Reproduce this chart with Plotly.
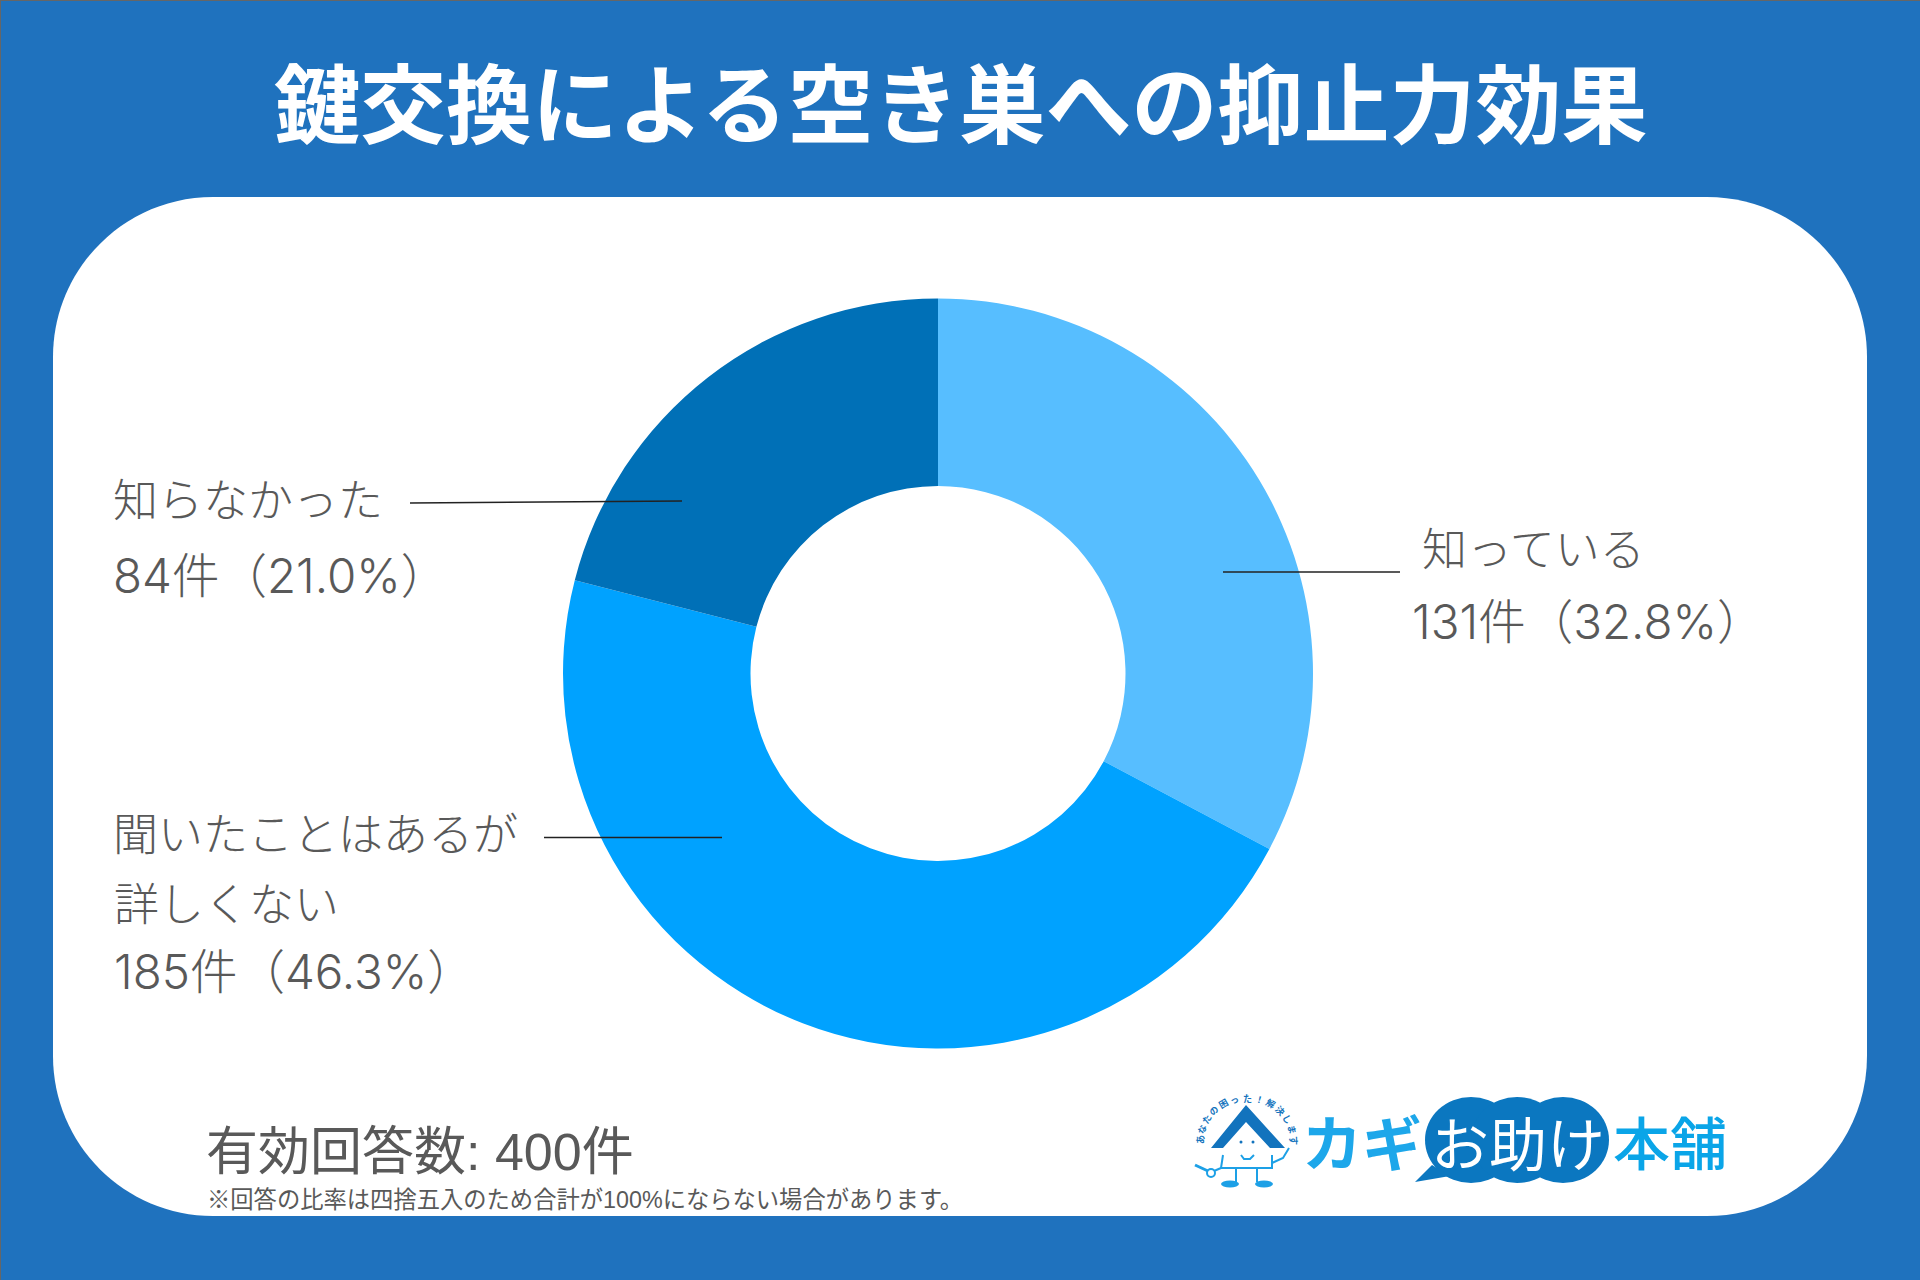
"""
Creates the donut chart for the key replacement survey.
"""

import math

import plotly.graph_objects as go

WIDTH = 1920
HEIGHT = 1280
JP_FONT = "Noto Sans CJK JP"
LABEL_FONT = "Inter, Noto Sans CJK JP"
FOOT_FONT = "Liberation Sans, Noto Sans CJK JP"
GRAY = "#595959"
BLUE = "#1F72BE"

TITLE = "鍵交換による空き巣への抑止力効果"
CATEGORIES = ["知っている", "聞いたことはあるが詳しくない", "知らなかった"]
COUNTS = [131, 185, 84]
SHARES = ["32.8", "46.3", "21.0"]
COLORS = ["#57BEFF", "#00A2FF", "#0070B7"]
TOTAL = 400
FOOTNOTE = "※回答の比率は四捨五入のため合計が100%にならない場合があります。"
LOGO_CIRCLE_TEXT = "あなたの困った！解決します"


def px(x):
    return x / WIDTH


def py(y):
    return 1 - y / HEIGHT


def rounded_rect(x0, y0, x1, y1, r):
    """SVG path in paper coordinates, arcs written as beziers"""
    k = r * 0.4477

    def p(x, y):
        return f"{px(x)},{py(y)}"

    return (
        f"M {p(x0 + r, y0)} L {p(x1 - r, y0)} "
        f"C {p(x1 - k, y0)} {p(x1, y0 + k)} {p(x1, y0 + r)} "
        f"L {p(x1, y1 - r)} "
        f"C {p(x1, y1 - k)} {p(x1 - k, y1)} {p(x1 - r, y1)} "
        f"L {p(x0 + r, y1)} "
        f"C {p(x0 + k, y1)} {p(x0, y1 - k)} {p(x0, y1 - r)} "
        f"L {p(x0, y0 + r)} "
        f"C {p(x0, y0 + k)} {p(x0 + k, y0)} {p(x0 + r, y0)} Z"
    )


def poly(points, close=False):
    path = "M " + " L ".join(f"{px(x)},{py(y)}" for x, y in points)
    return path + (" Z" if close else "")


def text(x, y, value, size, color=GRAY, anchor="left", family=LABEL_FONT, weight=300, angle=0):
    return dict(
        x=px(x),
        y=py(y),
        xref="paper",
        yref="paper",
        text=value,
        showarrow=False,
        xanchor=anchor,
        yanchor="middle",
        textangle=angle,
        font=dict(family=family, size=size, color=color, weight=weight),
    )


def line(x0, y0, x1, y1, color="#222222", width=1.6, layer="above"):
    return dict(
        type="line",
        xref="paper",
        yref="paper",
        x0=px(x0),
        y0=py(y0),
        x1=px(x1),
        y1=py(y1),
        line=dict(color=color, width=width),
        layer=layer,
    )


def filled(path, color):
    return dict(
        type="path",
        xref="paper",
        yref="paper",
        path=path,
        fillcolor=color,
        line=dict(width=0),
        layer="above",
    )


def outline(path, color, width):
    return dict(
        type="path",
        xref="paper",
        yref="paper",
        path=path,
        line=dict(color=color, width=width),
        layer="above",
    )


def ellipse(cx, cy, rx, ry, color):
    return dict(
        type="circle",
        xref="paper",
        yref="paper",
        x0=px(cx - rx),
        x1=px(cx + rx),
        y0=py(cy - ry),
        y1=py(cy + ry),
        fillcolor=color,
        line=dict(width=0),
        layer="above",
    )


def logo_shapes():
    dark = "#0B77C0"
    light = "#1DA0E6"
    shapes = [ellipse(cx, 1140, 46, 43, dark) for cx in (1471, 1517, 1563)]
    shapes.append(filled(poly([(1415, 1182), (1432, 1165), (1450, 1176)], True), dark))
    # house
    shapes.append(
        filled(
            poly(
                [(1246, 1105), (1285, 1148), (1270, 1148), (1246, 1122), (1223, 1148), (1211, 1148)],
                True,
            ),
            "#1273BD",
        )
    )
    shapes.append(outline(poly([(1223, 1155), (1221, 1168), (1272, 1168), (1272, 1155)]), light, 2))
    shapes.append(outline(poly([(1272, 1163), (1283, 1158), (1289, 1148)]), light, 2))
    shapes.append(outline(poly([(1236, 1168), (1236, 1182)]), light, 2))
    shapes.append(outline(poly([(1257, 1168), (1257, 1182)]), light, 2))
    shapes.append(ellipse(1230, 1184, 9, 3.5, light))
    shapes.append(ellipse(1264, 1184, 9, 3.5, light))
    shapes.append(ellipse(1241, 1142, 1.5, 1.5, "#1273BD"))
    shapes.append(ellipse(1253, 1142, 1.5, 1.5, "#1273BD"))
    shapes.append(outline(poly([(1241, 1155), (1244, 1159), (1250, 1159), (1254, 1155)]), light, 2))
    # key
    shapes.append(outline(poly([(1221, 1168), (1214, 1171)]), light, 2))
    shapes.append(outline(poly([(1208, 1171), (1195, 1165)]), light, 3))
    shapes.append(
        dict(
            type="circle",
            xref="paper",
            yref="paper",
            x0=px(1207),
            x1=px(1215),
            y0=py(1169),
            y1=py(1177),
            line=dict(color=light, width=2),
            layer="above",
        )
    )
    return shapes


def logo_annotations():
    items = [
        text(1362, 1139, "カギ", 60, "#1DA7EA", "center", JP_FONT, 700),
        text(1518, 1141, "お助け", 58, "white", "center", JP_FONT, 400),
        text(1670, 1140, "本舗", 57, "#0AA5E8", "center", JP_FONT, 500),
    ]
    count = len(LOGO_CIRCLE_TEXT)
    for i, char in enumerate(LOGO_CIRCLE_TEXT):
        angle = -90 + 180 * i / (count - 1)
        x = 1247 + 47 * math.sin(math.radians(angle))
        y = 1140 - 42 * math.cos(math.radians(angle))
        items.append(text(x, y, char, 9, "#1273BD", "center", JP_FONT, 700, angle))
    return items


fig = go.Figure(
    go.Pie(
        labels=CATEGORIES,
        values=COUNTS,
        hole=0.5,
        sort=False,
        direction="clockwise",
        rotation=0,
        textinfo="none",
        hoverinfo="skip",
        marker=dict(colors=COLORS, line=dict(width=0)),
        domain=dict(x=[px(563), px(1313)], y=[py(1048.5), py(298.5)]),
    )
)

shapes = [
    dict(
        type="path",
        xref="paper",
        yref="paper",
        path=rounded_rect(53, 197, 1867, 1216, 160),
        fillcolor="white",
        line=dict(width=0),
        layer="below",
    ),
    # thin gray edge of the original picture
    line(0, 0.5, WIDTH, 0.5, "#666666", 1, "below"),
    line(0.5, 0, 0.5, HEIGHT, "#666666", 1, "below"),
    line(410, 503, 682, 501),
    line(1223, 572, 1400, 572),
    line(544, 837.5, 722, 837.5),
]
shapes += logo_shapes()

annotations = [
    text(960, 99, TITLE, 86, "white", "center", JP_FONT, 700),
    text(1420, 549, CATEGORIES[0], 45),
    text(1410, 621, f"{COUNTS[0]}件（{SHARES[0]}%）", 47.5),
    text(111, 500, CATEGORIES[2], 45),
    text(111, 575, f"{COUNTS[2]}件（{SHARES[2]}%）", 47.5),
    text(111, 834, CATEGORIES[1][:9], 45),
    text(112, 904, CATEGORIES[1][9:], 45),
    text(112, 971, f"{COUNTS[1]}件（{SHARES[1]}%）", 47.5),
    text(204, 1152, f"有効回答数: {TOTAL}件", 52, family=FOOT_FONT, weight=400),
    text(205, 1200, FOOTNOTE, 23.3, family=FOOT_FONT, weight=400),
]
annotations += logo_annotations()

fig.update_layout(
    width=WIDTH,
    height=HEIGHT,
    margin=dict(l=0, r=0, t=0, b=0),
    paper_bgcolor=BLUE,
    showlegend=False,
    shapes=shapes,
    annotations=annotations,
)

# the page has a default body margin that would show up as a white frame
fig.write_html(
    "out.html",
    config=dict(displayModeBar=False),
    post_script="document.body.style.margin = '0';",
)
